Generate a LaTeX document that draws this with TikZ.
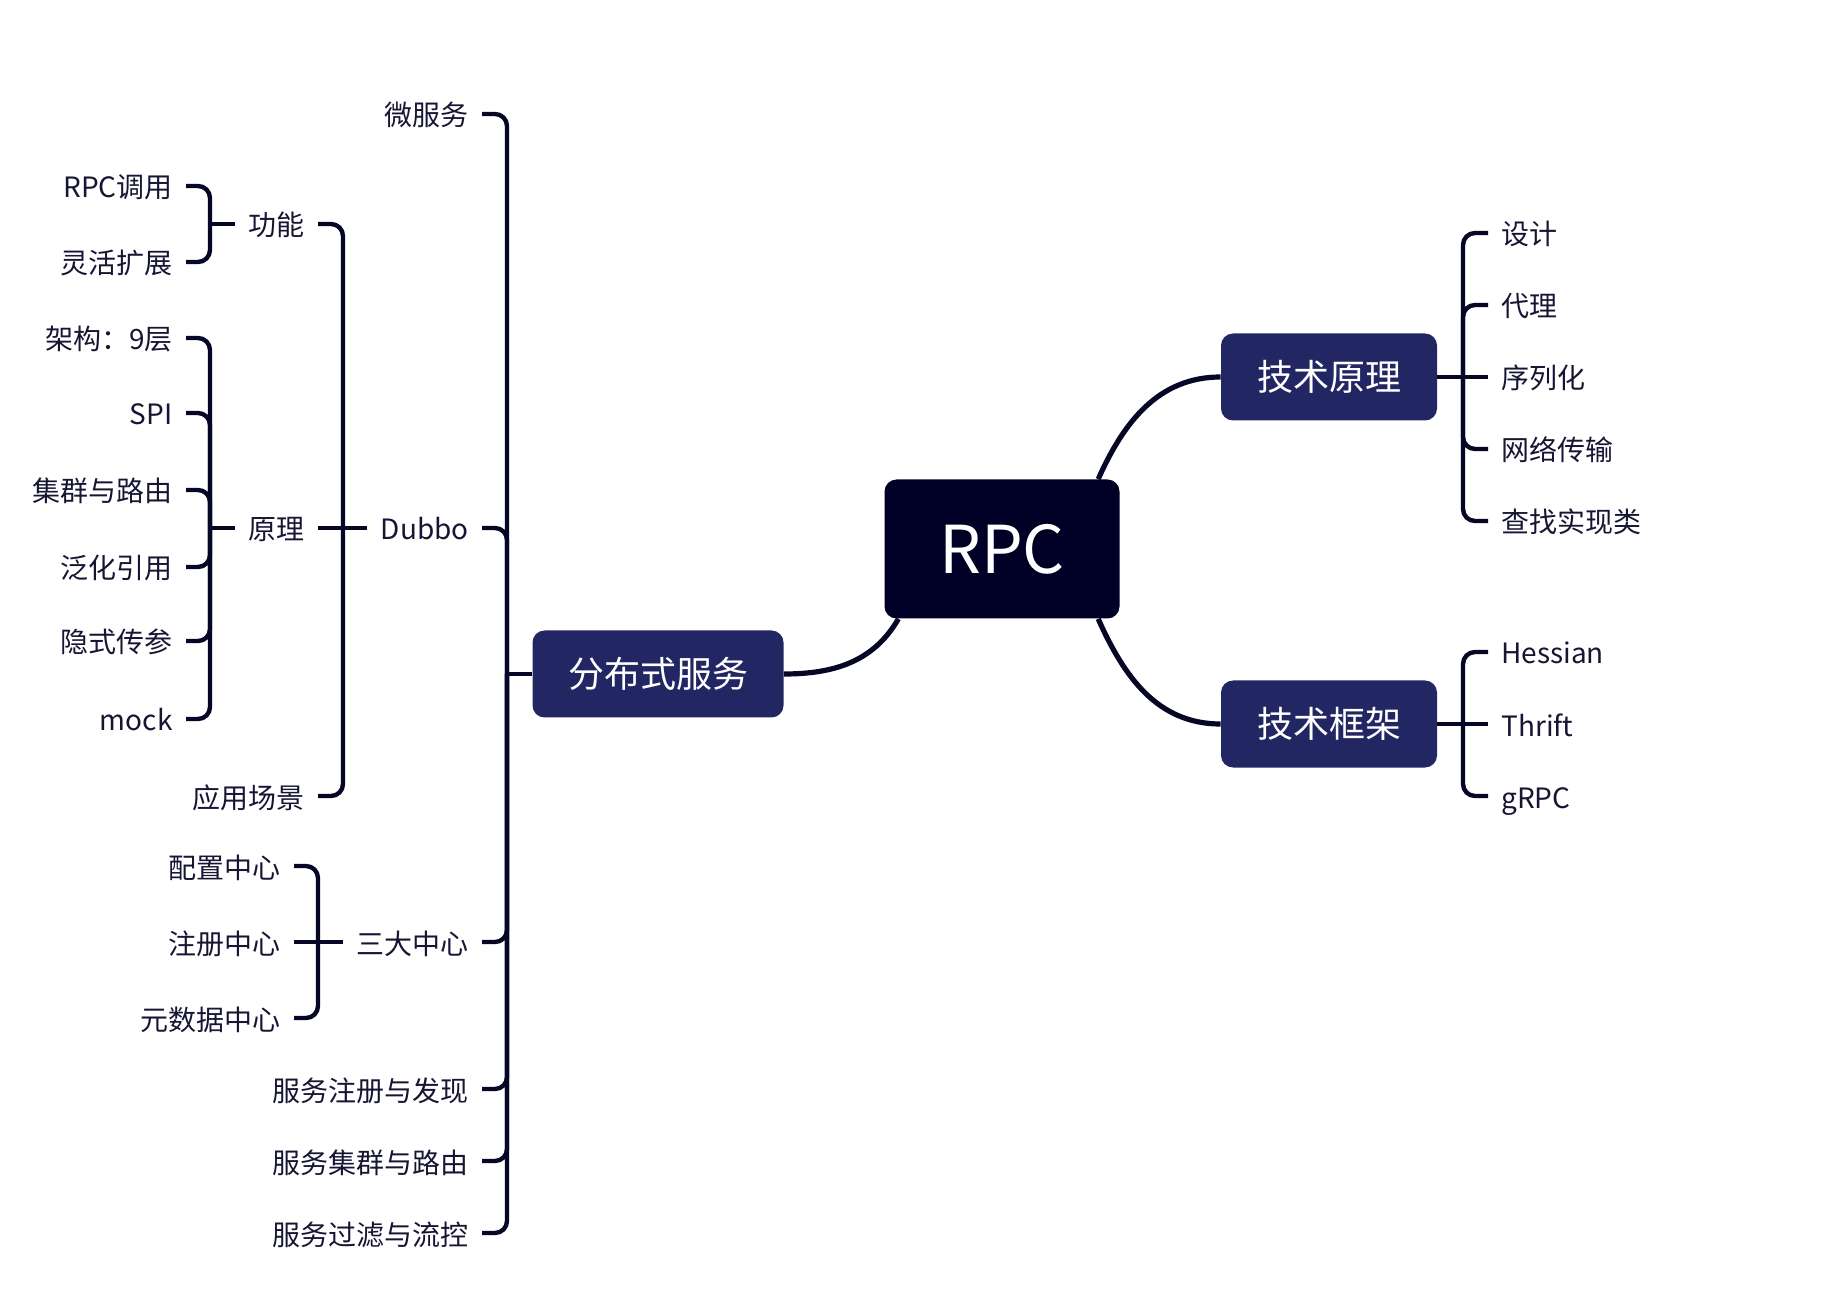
\documentclass[tikz,border=0pt]{standalone}
\usepackage{fontspec}
\setmainfont{Noto Sans CJK SC}
\usetikzlibrary{positioning, calc}
\definecolor{rpcdark}{RGB}{0, 0, 38}
\definecolor{rpcblue}{RGB}{34, 39, 100}
\definecolor{rpcline}{RGB}{6, 6, 38}
\definecolor{rpctext}{RGB}{22, 22, 52}
\tikzstyle{topic} = [rounded corners=6pt, fill=rpcblue, text=white, minimum width=108pt, minimum height=43.5pt, font=\fontsize{18}{22}\selectfont]
\tikzstyle{leaf} = [text=rpctext, inner xsep=6.5pt, inner ysep=2pt, text height=13pt, text depth=1pt, font=\fontsize{14}{17}\selectfont]
\tikzstyle{branch} = [line width=2.2pt, rpcline, rounded corners=6pt]
\tikzstyle{link} = [line width=2.6pt, rpcline]

\begin{document}
\begin{tikzpicture}[x=0.5pt, y=-0.5pt]
\useasboundingbox (0,0) rectangle (1821,1304);

% Center and main topics
\node[rounded corners=6pt, fill=rpcdark, text=white, minimum width=117.5pt, minimum height=69.5pt, font=\fontsize{33}{40}\selectfont] (rpc) at (1002,549) {RPC};
\node[topic, minimum width=125.5pt] (dist) at (658,674) {分布式服务};
\node[topic] (tech) at (1329,377) {技术原理};
\node[topic] (frame) at (1329,724) {技术框架};

\draw[link] (rpc.214) to[out=240, in=0] (dist.east);
\draw[link] (rpc.36) to[out=66, in=180] (tech.west);
\draw[link] (rpc.-36) to[out=-66, in=180] (frame.west);

% Right side
\coordinate (techb) at (1463,377);
\draw[branch] (tech.east) -- (techb);
\foreach \n/\y/\txt in {t1/233/设计, t2/305/代理, t3/377/序列化, t4/449/网络传输, t5/521/查找实现类} {
    \node[leaf, anchor=west] (\n) at (1488,\y) {\txt};
    \ifnum\y=377
        \draw[branch] (techb) -- (\n.west);
    \else
        \draw[branch] (techb) |- (\n.west);
    \fi
}
\coordinate (frameb) at (1463,724);
\draw[branch] (frame.east) -- (frameb);
\foreach \n/\y/\txt in {k1/652/Hessian, k2/724/Thrift, k3/796/gRPC} {
    \node[leaf, anchor=west] (\n) at (1488,\y) {\txt};
    \ifnum\y=724
        \draw[branch] (frameb) -- (\n.west);
    \else
        \draw[branch] (frameb) |- (\n.west);
    \fi
}

% Left side
\coordinate (distb) at (507,674);
\draw[branch] (dist.west) -- (distb);
\foreach \n/\y/\txt in {d1/114/微服务, d2/528/Dubbo, d3/942/三大中心, d4/1089/服务注册与发现, d5/1161/服务集群与路由, d6/1233/服务过滤与流控} {
    \node[leaf, anchor=east] (\n) at (482,\y) {\txt};
    \draw[branch] (distb) |- (\n.east);
}

% Dubbo
\coordinate (dubbob) at (343,528);
\draw[branch] (d2.west) -- (dubbob);
\foreach \n/\y/\txt in {b1/224/功能, b2/528/原理, b3/796/应用场景} {
    \node[leaf, anchor=east] (\n) at (318,\y) {\txt};
    \ifnum\y=528
        \draw[branch] (dubbob) -- (\n.east);
    \else
        \draw[branch] (dubbob) |- (\n.east);
    \fi
}
\coordinate (funcb) at (210,224);
\draw[branch] (b1.west) -- (funcb);
\foreach \n/\y/\txt in {f1/186/RPC调用, f2/262/灵活扩展} {
    \node[leaf, anchor=east] (\n) at (186,\y) {\txt};
    \draw[branch] (funcb) |- (\n.east);
}
\coordinate (prinb) at (210,528);
\draw[branch] (b2.west) -- (prinb);
\foreach \n/\y/\txt in {p1/338/架构：9层, p2/413/SPI, p3/490/集群与路由, p4/567/泛化引用, p5/641/隐式传参, p6/719/mock} {
    \node[leaf, anchor=east] (\n) at (186,\y) {\txt};
    \draw[branch] (prinb) |- (\n.east);
}

% Three centers
\coordinate (centb) at (318,942);
\draw[branch] (d3.west) -- (centb);
\foreach \n/\y/\txt in {c1/866/配置中心, c2/942/注册中心, c3/1018/元数据中心} {
    \node[leaf, anchor=east] (\n) at (294,\y) {\txt};
    \ifnum\y=942
        \draw[branch] (centb) -- (\n.east);
    \else
        \draw[branch] (centb) |- (\n.east);
    \fi
}
\end{tikzpicture}
\end{document}
